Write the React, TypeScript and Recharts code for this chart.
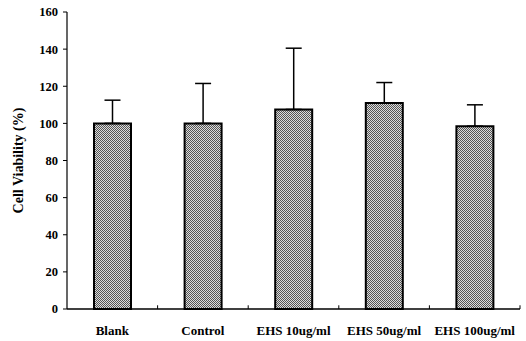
import React from "react";
import {
  BarChart,
  Bar,
  XAxis,
  YAxis,
  ErrorBar,
  ReferenceLine,
} from "recharts";

const categories = ["Blank", "Control", "EHS 10ug/ml", "EHS 50ug/ml", "EHS 100ug/ml"];
const viability = [100, 100, 107.5, 111, 98.5];
const upperBound = [112.5, 121.5, 140.5, 122, 110];
const yTicks = [0, 20, 40, 60, 80, 100, 120, 140, 160];
const edgeTicks = [1, 2, 3, 4, 5];

const data = categories.map((name, i) => ({
  name,
  pos: i + 0.5,
  value: viability[i],
  err: [0, upperBound[i] - viability[i]],
}));

const font = "'Liberation Serif', 'Times New Roman', serif";

export default function App() {
  return (
    <div style={{ position: "absolute", left: 0, top: 0, background: "#fff" }}>
      <BarChart
        width={526}
        height={341}
        data={data}
        margin={{ top: 12, right: 6, left: 0, bottom: 2 }}
      >
        <defs>
          <pattern id="stipple" width="2" height="2" patternUnits="userSpaceOnUse">
            <rect width="2" height="2" fill="#dcdcdc" />
            <rect width="1" height="1" fill="#555" />
            <rect x="1" y="1" width="1" height="1" fill="#555" />
          </pattern>
        </defs>
        <XAxis
          dataKey="pos"
          type="number"
          domain={[0, 5]}
          ticks={data.map((d) => d.pos)}
          tickFormatter={(v: number) => categories[Math.floor(v)]}
          interval={0}
          height={30}
          tickSize={0}
          tickMargin={17}
          tickLine={false}
          axisLine={{ stroke: "#000", strokeWidth: 1.5 }}
          tick={{ fontSize: 13, fontWeight: "bold", fill: "#000", fontFamily: font }}
        />
        <YAxis
          domain={[0, 160]}
          ticks={yTicks}
          width={67}
          tickSize={4}
          tickMargin={5}
          axisLine={{ stroke: "#000", strokeWidth: 1.2 }}
          tickLine={{ stroke: "#000", strokeWidth: 1 }}
          tick={{ fontSize: 12.5, fontWeight: "bold", fill: "#000", fontFamily: font }}
          label={{
            value: "Cell Viability (%)",
            angle: -90,
            position: "insideLeft",
            offset: 18,
            style: {
              textAnchor: "middle",
              fontSize: 14,
              fontWeight: "bold",
              fill: "#000",
              fontFamily: font,
            },
          }}
        />
        {edgeTicks.map((t) => (
          <ReferenceLine
            key={t}
            segment={[
              { x: t, y: 0 },
              { x: t, y: 2 },
            ]}
            stroke="#000"
            strokeWidth={1}
          />
        ))}
        <Bar
          dataKey="value"
          barSize={37}
          fill="url(#stipple)"
          stroke="#000"
          strokeWidth={2}
          isAnimationActive={false}
        >
          <ErrorBar
            dataKey="err"
            width={8}
            stroke="#000"
            strokeWidth={1.5}
            isAnimationActive={false}
          />
        </Bar>
      </BarChart>
    </div>
  );
}
